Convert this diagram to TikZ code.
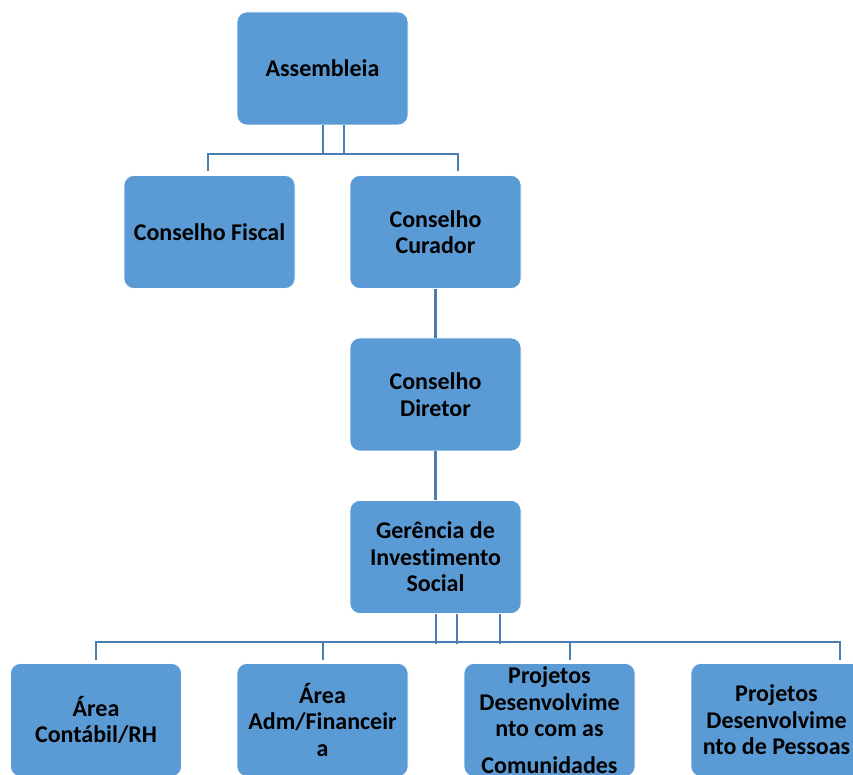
\documentclass[tikz,border=0pt]{standalone}
\usepackage{fontspec}
\setmainfont{Carlito}[Ligatures={NoCommon}]
\definecolor{boxblue}{HTML}{5B9BD5}
\definecolor{linkblue}{HTML}{4A7EB0}
\begin{document}
\begin{tikzpicture}[x=1pt,y=1pt,
  orgbox/.style={draw=white, line width=0.6pt, fill=boxblue, rounded corners=10pt,
    minimum width=171pt, minimum height=113pt, align=center, inner sep=2pt,
    font=\fontsize{24}{26.5}\selectfont\bfseries, text=black},
  conn/.style={draw=linkblue, line width=2.4pt}]
\useasboundingbox (0,0) rectangle (853,774);
\clip (0,0) rectangle (853,774);
% top level
\node[orgbox] (asm) at (322.5,705.5) {Assembleia};
\node[orgbox] (cf) at (209.5,542) {Conselho Fiscal};
\node[orgbox] (cc) at (435.5,542) {Conselho\\Curador};
\node[orgbox] (cd) at (435.5,379.5) {Conselho\\Diretor};
\node[orgbox] (gis) at (435.5,217) {Gerência de\\Investimento\\Social};
% bottom level
\node[orgbox] (ac) at (96,54) {Área\\Contábil/RH};
\node[orgbox] (af) at (322.5,54) {Área\\Adm/Financeir\\a};
\node[orgbox] (pc) at (549.5,54) {Projetos\\Desenvolvime\\nto com as\\[10pt]Comunidades};
\node[orgbox] (pp) at (776.5,54) {Projetos\\Desenvolvime\\nto de Pessoas};
% connectors top
\draw[conn] ([xshift=0.5pt]asm.south) -- ++(0,-30);
\draw[conn] ([xshift=21.5pt]asm.south) -- ++(0,-30);
\draw[conn] ([xshift=-1.5pt,yshift=4pt]cf.north) |- ([xshift=22.5pt,yshift=21pt]cc.north) -- ([xshift=22.5pt,yshift=4pt]cc.north);
\draw[conn] (cc.south) -- (cd.north);
\draw[conn] (cd.south) -- (gis.north);
% connectors bottom
\draw[conn] ([xshift=0.5pt]gis.south) -- ++(0,-30);
\draw[conn] ([xshift=21.5pt]gis.south) -- ++(0,-30);
\draw[conn] ([xshift=64.5pt]gis.south) -- ++(0,-30);
\draw[conn] ([yshift=3pt]ac.north) |- ([xshift=63.5pt,yshift=21pt]pp.north) -- ([xshift=63.5pt,yshift=3pt]pp.north);
\draw[conn] ([yshift=3pt,xshift=0.5pt]af.north) -- ++(0,18);
\draw[conn] ([yshift=3pt,xshift=20.5pt]pc.north) -- ++(0,18);
\end{tikzpicture}
\end{document}
